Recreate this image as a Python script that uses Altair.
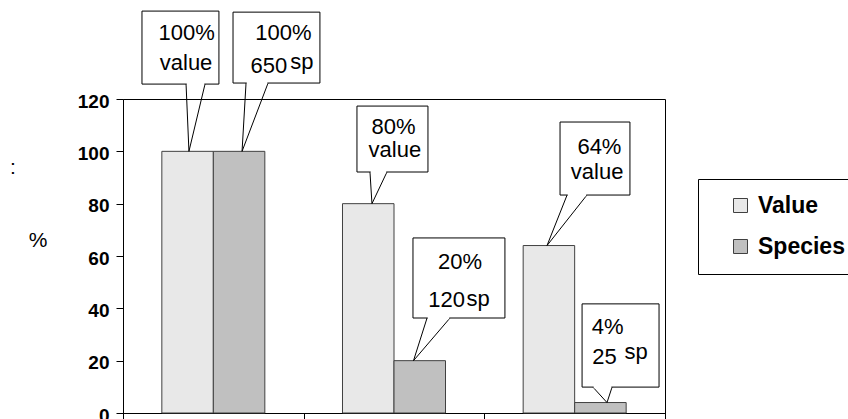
import altair as alt
import pandas as pd

# ---------------- data ----------------
categories = ["Stage 1", "Stage 2", "Stage 3"]
series_names = ["Value", "Species"]
value_pct = [100, 80, 64]
species_pct = [100, 20, 4]
species_count = [650, 120, 25]
y_ticks = [0, 20, 40, 60, 80, 100, 120]
x_ticks = [0, 1, 2, 3]

# ---------------- style ----------------
FONT = "Liberation Sans"
bar_colors = ["#E8E8E8", "#C0C0C0"]

bars_df = pd.DataFrame({
    "category": categories * 2,
    "series": [series_names[0]] * 3 + [series_names[1]] * 3,
    "pct": value_pct + species_pct,
})

# callout geometry (x in category units, y in % units): box x1, x2, top, bottom,
# tail base x1, x2, tip x; tip y is the bar value
callout_geom = [
    (0.105, 0.531, 153.6, 125.7, 0.349, 0.454, 0.365),
    (0.609, 1.090, 153.2, 126.1, 0.681, 0.803, 0.659),
    (1.295, 1.688, 117.3, 92.1, 1.367, 1.461, 1.378),
    (2.419, 2.806, 111.2, 83.3, 2.458, 2.568, 2.347),
    (1.605, 2.114, 66.9, 36.3, 1.683, 1.810, 1.608),
    (2.541, 2.967, 41.7, 9.9, 2.601, 2.707, 2.679),
]
callout_tip_value = [value_pct[0], species_pct[0], value_pct[1], value_pct[2], species_pct[1], species_pct[2]]

# text lines: (text, x, baseline y)
callout_text = [
    (f"{value_pct[0]}%", 0.352, 142.5), ("value", 0.349, 131.0),
    (f"{species_pct[0]}%", 0.888, 142.5), (f"{species_count[0]}", 0.808, 129.9), ("sp", 0.990, 131.6),
    (f"{value_pct[1]}%", 1.497, 106.8), ("value", 1.505, 98.0),
    (f"{value_pct[2]}%", 2.637, 99.1), ("value", 2.624, 89.5),
    (f"{species_pct[1]}%", 1.865, 55.1), (f"{species_count[1]}", 1.791, 40.6), ("sp", 1.965, 41.0),
    (f"{species_pct[2]}%", 2.682, 30.3), (f"{species_count[2]}", 2.665, 18.8), ("sp", 2.840, 20.8),
]

boxes_df = pd.DataFrame([
    {"x": g[0], "x2": g[1], "y": g[2], "y2": g[3]} for g in callout_geom
])
tails = []
erase = []
for g, tv in zip(callout_geom, callout_tip_value):
    tails.append({"x": g[4], "y": g[3], "x2": g[6], "y2": tv})
    tails.append({"x": g[5], "y": g[3], "x2": g[6], "y2": tv})
    erase.append({"x": g[4] + 0.004, "x2": g[5] - 0.004, "y": g[3]})
tails_df = pd.DataFrame(tails)
erase_df = pd.DataFrame(erase)
text_df = pd.DataFrame([{"t": t, "x": x, "y": y} for t, x, y in callout_text])

yscale = alt.Scale(domain=[0, 120], nice=False)
xq_scale = alt.Scale(domain=[0, 3], nice=False, zero=False)

y_axis = alt.Axis(
    values=y_ticks, grid=False, labelFont=FONT, labelFontSize=19, labelFontWeight="bold",
    labelColor="black", labelPadding=7, labelOffset=2, tickColor="black", tickSize=7,
    domainColor="black", title="%", titleAngle=0, titleFont=FONT, titleFontSize=21,
    titleFontWeight="normal", titleColor="black", titleX=-85.5, titleY=141,
    titleBaseline="middle", titleAlign="center")

x_axis = alt.Axis(
    values=x_ticks, labels=False, grid=False, title=None, tickSize=6,
    tickColor="black", domainColor="black", orient="bottom")

bars = alt.Chart(bars_df).mark_bar(stroke="#404040", strokeWidth=1).encode(
    x=alt.X("category:N", scale=alt.Scale(domain=categories, paddingInner=0, paddingOuter=0), axis=None),
    xOffset=alt.XOffset("series:N", scale=alt.Scale(domain=series_names, paddingInner=0, paddingOuter=0.754)),
    y=alt.Y("pct:Q", scale=yscale, axis=y_axis),
    color=alt.Color("series:N", scale=alt.Scale(domain=series_names, range=bar_colors),
                    legend=alt.Legend(
                        title=" ", titleOrient="left", titleFontSize=1, titlePadding=16,
                        orient="none", legendX=575, legendY=80, padding=15,
                        strokeColor="black", fillColor="white", symbolType="square",
                        symbolSize=196, symbolStrokeColor="#404040", symbolStrokeWidth=1,
                        labelFont=FONT, labelFontSize=23, labelFontWeight="bold",
                        labelColor="black", labelOffset=6, rowPadding=17)),
)

tail_layer = alt.Chart(tails_df).mark_rule(color="black", strokeWidth=1).encode(
    x=alt.X("x:Q", scale=xq_scale, axis=x_axis),
    x2="x2:Q",
    y=alt.Y("y:Q", scale=yscale, axis=y_axis),
    y2="y2:Q",
)

box_layer = alt.Chart(boxes_df).mark_rect(fill="white", stroke="black", strokeWidth=1).encode(
    x=alt.X("x:Q", scale=xq_scale, axis=x_axis),
    x2="x2:Q",
    y=alt.Y("y:Q", scale=yscale, axis=y_axis),
    y2="y2:Q",
)

erase_layer = alt.Chart(erase_df).mark_rule(color="white", strokeWidth=2.5).encode(
    x=alt.X("x:Q", scale=xq_scale, axis=x_axis),
    x2="x2:Q",
    y=alt.Y("y:Q", scale=yscale, axis=y_axis),
)

text_layer = alt.Chart(text_df).mark_text(
    font=FONT, fontSize=22, color="black", align="center", baseline="alphabetic"
).encode(
    x=alt.X("x:Q", scale=xq_scale, axis=x_axis),
    y=alt.Y("y:Q", scale=yscale, axis=y_axis),
    text="t:N",
)

colon_layer = alt.Chart(pd.DataFrame({"t": [":"]})).mark_text(
    font=FONT, fontSize=21, color="black", align="center", baseline="middle"
).encode(
    x=alt.value(-110),
    y=alt.value(69),
    text="t:N",
)

chart = alt.layer(
    bars, tail_layer, box_layer, erase_layer, text_layer, colon_layer
).resolve_scale(
    x="independent"
).properties(
    width=542,
    height=314,
    padding={"left": 123, "top": 99, "right": 183, "bottom": 6},
    autosize=alt.AutoSizeParams(type="none"),
    background="white",
).configure_view(
    stroke="black", strokeWidth=1
)

chart.save("out.html", embed_options={"renderer": "svg", "actions": False})
